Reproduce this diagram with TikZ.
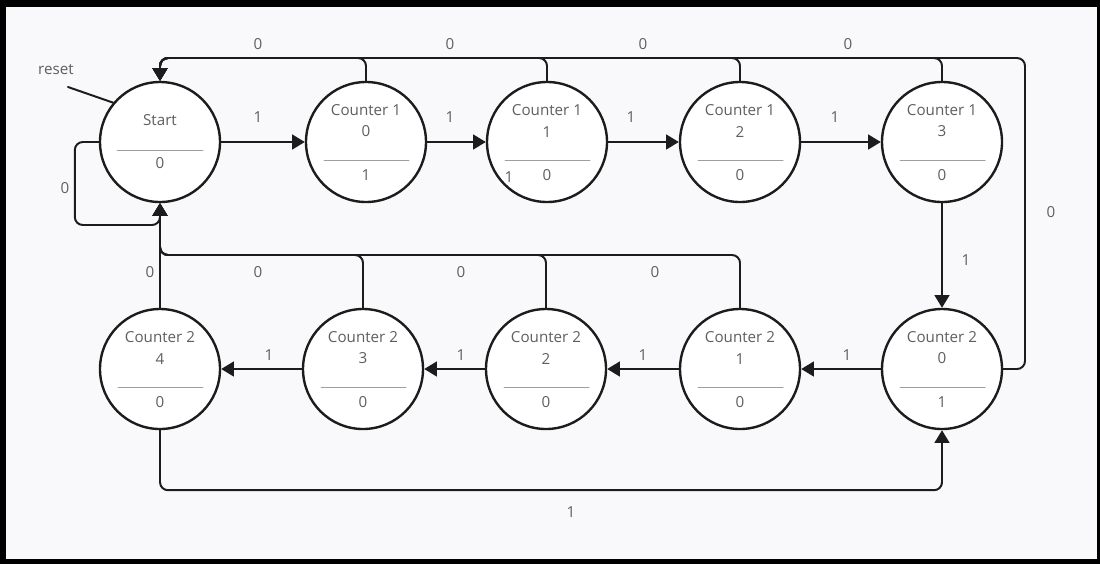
\documentclass[tikz,border=0pt]{standalone}
\usepackage{fontspec}
\setmainfont{Open Sans}
\usetikzlibrary{arrows.meta}
\definecolor{txtgray}{HTML}{5F5F5F}
\definecolor{paper}{HTML}{F9F9FB}
\definecolor{inkdark}{HTML}{1C1C1C}
\begin{document}
\begin{tikzpicture}[x=0.25mm, y=-0.25mm, font=\fontsize{10.8}{15}\selectfont, line join=round, line cap=round, >={Triangle[length=9pt,width=10.5pt]},
	state/.style={circle, draw=inkdark, line width=1.7pt, fill=white, minimum size=30mm, inner sep=0pt},
	txt/.style={text=txtgray, align=center, inner sep=0pt},
	lbl/.style={text=txtgray, inner sep=1pt},
	divider/.style={draw=gray!75, line width=0.7pt},
	wire/.style={draw=inkdark, line width=1.4pt, rounded corners=2mm}]
	% Rahmen
	\fill[black] (0,0) rectangle (1100,564);
	\fill[paper] (6,7) rectangle (1097,559);
	% Zustaende
	\node[state] (s) at (160,142) {};
	\node[txt] (s-n) at (160,120) {Start};
	\draw[divider] (117,150)--(203,150);
	\node[txt] (s-o) at (160,163) {0};
	\foreach \nm/\px/\py/\ctr/\val in {c10/366/142/0/1, c11/547/142/1/0, c12/740/142/2/0, c13/942/142/3/0}{
		\node[state] (\nm) at (\px,\py) {};
		\node[txt] (\nm-n) at (\px,\py-21) {Counter 1\\\ctr};
		\draw[divider] (\px-42,\py+18)--(\px+43,\py+18);
		\node[txt] (\nm-o) at (\px,\py+33) {\val};
	}
	\foreach \nm/\px/\py/\ctr/\val in {c24/160/369/4/0, c23/363/369/3/0, c22/546/369/2/0, c21/740/369/1/0, c20/942/369/0/1}{
		\node[state] (\nm) at (\px,\py) {};
		\node[txt] (\nm-n) at (\px,\py-21) {Counter 2\\\ctr};
		\draw[divider] (\px-42,\py+18)--(\px+43,\py+18);
		\node[txt] (\nm-o) at (\px,\py+33) {\val};
	}
	\coordinate (topline) at (160,58);
	\coordinate (rcorner) at (1025,58);
	\coordinate (botline) at (160,255);
	\coordinate (selfc) at (160,225);
	\coordinate (rst) at (68,87);
	% Uebergaenge
	\draw[wire] (rst)--(s.140);
	\node[lbl] (rst-l) at (56,70) {reset};
	\draw[wire,->] (s)--(c10);
	\draw[wire,->] (c10)--(c11);
	\draw[wire,->] (c11)--(c12);
	\draw[wire,->] (c12)--(c13);
	\draw[wire,->] (c13)--(c20);
	\draw[wire,->] (c20)--(c21);
	\draw[wire,->] (c21)--(c22);
	\draw[wire,->] (c22)--(c23);
	\draw[wire,->] (c23)--(c24);
	\foreach \nm in {c10,c11,c12,c13}
		\draw[wire,->] (\nm.north) |- (topline) -- (s.north);
	\draw[wire,->] (c20.east) -| (rcorner) -- (topline) -- (s.north);
	\foreach \nm in {c21,c22,c23}
		\draw[wire,->] (\nm.north) |- (botline) -- (s.south);
	\draw[wire,->] (c24.north)--(s.south);
	\draw[wire,->] (s.west) -- ++(-24,0) |- (selfc) -- (s.south);
	\draw[wire,->] (c24.south) -- ++(0,60) -| (c20.south);
	% Beschriftungen
	\foreach \px/\py/\t [count=\i] in {258/117/1, 450/117/1, 631/117/1, 835/117/1, 509/177/1,
		258/44/0, 450/44/0, 643/44/0, 848/44/0, 1051/212/0, 966/260/1,
		269/355/1, 461/355/1, 643/355/1, 847/355/1,
		150/272/0, 258/272/0, 461/272/0, 655/272/0, 571/512/1, 65/188/0}
		\node[lbl] (l\i) at (\px,\py) {\t};
\end{tikzpicture}
\end{document}
